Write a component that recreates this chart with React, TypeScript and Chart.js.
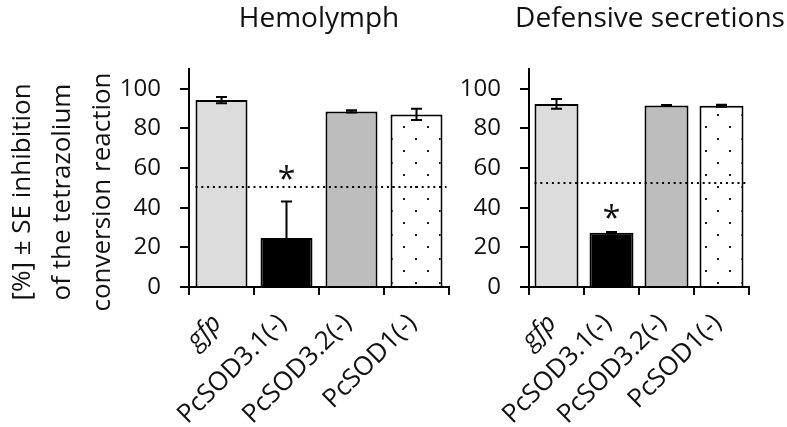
import React, { useEffect, useRef } from "react";
import { Chart, registerables } from "chart.js";

Chart.register(...registerables);

// ---------- data ----------
const categories = ["gfp", "PcSOD3.1(-)", "PcSOD3.2(-)", "PcSOD1(-)"];
const italicCategories = ["gfp"];
const yTickValues = [0, 20, 40, 60, 80, 100];
const yAxisTitleLines = ["[%] ± SE inhibition", "of the tetrazolium", "conversion reaction"];

const hemolymphTitle = "Hemolymph";
const hemolymphMeans = [94.3, 24.7, 88.6, 87.1];
const hemolymphSE = [1.6, 18.4, 0.6, 2.8];
const hemolymphThreshold = 50.3;
const hemolymphStarLevels = [null, 58, null, null];

const secretionTitle = "Defensive secretions";
const secretionMeans = [92.4, 27.4, 91.6, 91.5];
const secretionSE = [2.4, 0.4, 0.2, 0.5];
const secretionThreshold = 52.6;
const secretionStarLevels = [null, 38, null, null];

// ---------- styles ----------
const FONT = "'Open Sans', 'Noto Sans', sans-serif";
const TEXT = "#111";
const FILLS = ["#dcdcdc", "#000000", "#bdbdbd", "pattern"];

type PanelCfg = {
  title: string;
  means: number[];
  se: number[];
  threshold: number;
  stars: (number | null)[];
  canvasLeft: number;
  canvasWidth: number;
  yAxisWidth: number;
  padRight: number;
  titleCenterX: number;
  yTitle: boolean;
  dot: [number, number];
};

const panels: PanelCfg[] = [
  {
    title: hemolymphTitle,
    means: hemolymphMeans,
    se: hemolymphSE,
    threshold: hemolymphThreshold,
    stars: hemolymphStarLevels,
    canvasLeft: 0,
    canvasWidth: 470,
    yAxisWidth: 189,
    padRight: 21,
    titleCenterX: 319,
    yTitle: true,
    dot: [20, 7],
  },
  {
    title: secretionTitle,
    means: secretionMeans,
    se: secretionSE,
    threshold: secretionThreshold,
    stars: secretionStarLevels,
    canvasLeft: 400,
    canvasWidth: 387,
    yAxisWidth: 129,
    padRight: 38,
    titleCenterX: 250,
    yTitle: false,
    dot: [18, 7],
  },
];

const H = 427;

function makePattern(ctx: CanvasRenderingContext2D, dot: [number, number]) {
  const tile = document.createElement("canvas");
  tile.width = 24;
  tile.height = 24;
  const t = tile.getContext("2d")!;
  t.fillStyle = "#ffffff";
  t.fillRect(0, 0, 24, 24);
  t.fillStyle = "#1a1a1a";
  const [dx, dy] = dot;
  t.fillRect(dx - 1, dy - 1, 2, 2);
  t.fillRect(((dx - 12 + 24) % 24) - 1, ((dy + 12) % 24) - 1, 2, 2);
  return ctx.createPattern(tile, "repeat")!;
}

function buildChart(canvas: HTMLCanvasElement, p: PanelCfg) {
  const ctx = canvas.getContext("2d")!;
  const pattern = makePattern(ctx, p.dot);
  const colors = FILLS.map((c) => (c === "pattern" ? pattern : c));

  const overlay = {
    id: "overlay" + p.canvasLeft,
    afterDatasetsDraw(chart: any) {
      const c = chart.ctx as CanvasRenderingContext2D;
      const y = chart.scales.y;
      const meta = chart.getDatasetMeta(0);
      const bars = meta.data;
      c.save();
      c.strokeStyle = "#000";
      c.lineWidth = 2;
      // threshold line
      const first = bars[0];
      const last = bars[bars.length - 1];
      const x0 = first.x - first.width / 2;
      const x1 = last.x + last.width / 2 + 4;
      const yt = Math.round(y.getPixelForValue(p.threshold));
      c.setLineDash([2, 3.8]);
      c.beginPath();
      c.moveTo(x0, yt);
      c.lineTo(x1, yt);
      c.stroke();
      c.setLineDash([]);
      // error bars
      p.means.forEach((m, i) => {
        const bx = bars[i].x;
        const yHi = y.getPixelForValue(m + p.se[i]);
        const yLo = y.getPixelForValue(m - p.se[i]);
        c.beginPath();
        c.moveTo(bx, yHi);
        c.lineTo(bx, yLo);
        c.moveTo(bx - 5.5, yHi);
        c.lineTo(bx + 5.5, yHi);
        c.moveTo(bx - 5.5, yLo);
        c.lineTo(bx + 5.5, yLo);
        c.stroke();
      });
      // significance stars
      c.fillStyle = TEXT;
      c.font = `32px ${FONT}`;
      c.textAlign = "center";
      c.textBaseline = "alphabetic";
      p.stars.forEach((lvl, i) => {
        if (lvl == null) return;
        const mt = c.measureText("*");
        const yc = y.getPixelForValue(lvl);
        const base = yc + (mt.actualBoundingBoxAscent - mt.actualBoundingBoxDescent) / 2;
        c.fillText("*", bars[i].x, base);
      });
      c.restore();
    },
    afterDraw(chart: any) {
      const c = chart.ctx as CanvasRenderingContext2D;
      c.save();
      c.fillStyle = TEXT;
      c.font = `28px ${FONT}`;
      c.textAlign = "center";
      c.textBaseline = "alphabetic";
      c.fillText(p.title, p.titleCenterX, 27);
      if (p.yTitle) {
        c.font = `26px ${FONT}`;
        c.translate(0, 192);
        c.rotate(-Math.PI / 2);
        yAxisTitleLines.forEach((line, i) => {
          c.fillText(line, 0, 30 + i * 40);
        });
      }
      c.restore();
    },
  };

  return new Chart(ctx, {
    type: "bar",
    data: {
      labels: categories,
      datasets: [
        {
          data: p.means,
          backgroundColor: colors as any,
          borderColor: "#000",
          borderWidth: 2,
          barPercentage: 0.8,
          categoryPercentage: 1.0,
        },
      ],
    },
    options: {
      responsive: false,
      animation: false,
      events: [],
      layout: { padding: { top: 69, right: p.padRight, left: 0, bottom: 0 } },
      plugins: {
        legend: { display: false },
        title: { display: false },
        tooltip: { enabled: false },
      },
      scales: {
        x: {
          type: "category",
          grid: {
            offset: true,
            drawOnChartArea: false,
            drawTicks: true,
            tickLength: 8,
            color: "#000",
            lineWidth: 2,
          },
          border: { display: true, color: "#000", width: 2 },
          ticks: {
            autoSkip: false,
            maxRotation: 45,
            minRotation: 45,
            padding: 13,
            labelOffset: -4,
            color: TEXT,
            font: (c: any) => ({
              family: FONT,
              size: 26,
              style: italicCategories.includes(categories[c.index]) ? "italic" : "normal",
            }),
          },
          afterFit(scale: any) {
            scale.height = 140;
          },
        },
        y: {
          min: 0,
          max: 110,
          grid: {
            drawOnChartArea: false,
            drawTicks: true,
            tickLength: 9,
            color: "#000",
            lineWidth: 2,
          },
          border: { display: true, color: "#000", width: 2 },
          ticks: {
            padding: 19,
            color: TEXT,
            font: { family: FONT, size: 24 },
          },
          afterBuildTicks(scale: any) {
            scale.ticks = yTickValues.map((v) => ({ value: v }));
          },
          afterFit(scale: any) {
            scale.width = p.yAxisWidth;
          },
        },
      },
    },
    plugins: [overlay],
  } as any);
}

export default function App() {
  const leftRef = useRef<HTMLCanvasElement>(null);
  const rightRef = useRef<HTMLCanvasElement>(null);

  useEffect(() => {
    const charts: Chart[] = [];
    const refs = [leftRef.current, rightRef.current];
    panels.forEach((p, i) => {
      const cv = refs[i];
      if (cv) charts.push(buildChart(cv, p));
    });
    return () => charts.forEach((c) => c.destroy());
  }, []);

  return (
    <div
      style={{
        position: "absolute",
        left: 0,
        top: 0,
        width: 787,
        height: H,
        background: "#fff",
        overflow: "hidden",
      }}
    >
      <canvas
        ref={leftRef}
        width={panels[0].canvasWidth}
        height={H}
        style={{ position: "absolute", left: panels[0].canvasLeft, top: 0 }}
      />
      <canvas
        ref={rightRef}
        width={panels[1].canvasWidth}
        height={H}
        style={{ position: "absolute", left: panels[1].canvasLeft, top: 0 }}
      />
    </div>
  );
}
